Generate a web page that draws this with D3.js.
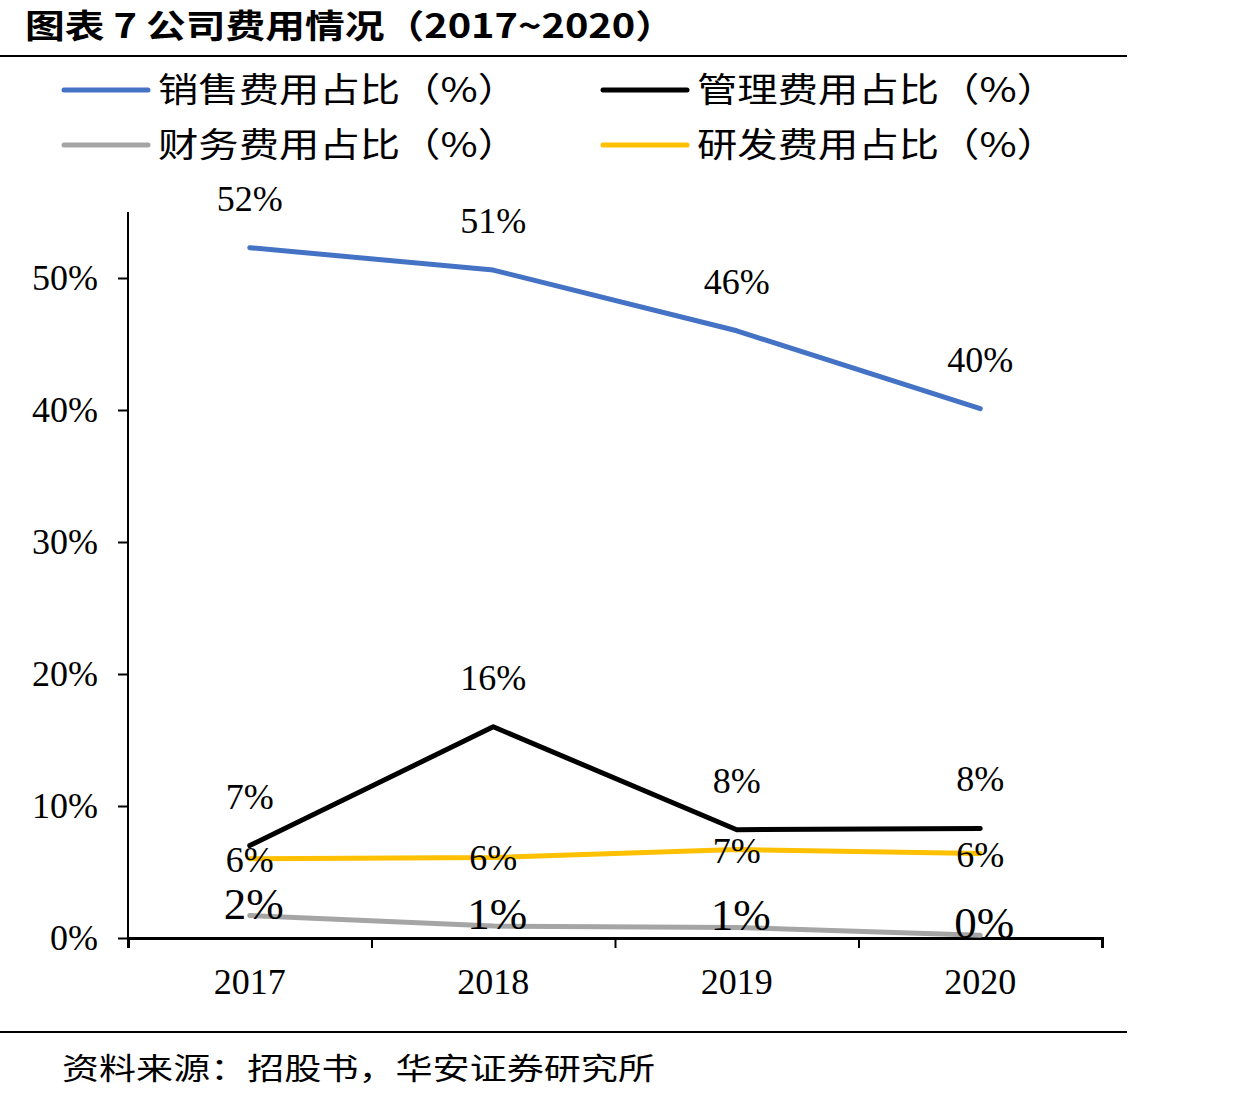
<!DOCTYPE html>
<html>
<head>
<meta charset="utf-8">
<script src="https://cdn.jsdelivr.net/npm/d3@7"></script>
<style>
  body { margin: 0; background: #fff; }
  svg { display: block; }
</style>
</head>
<body>
<div id="chart"></div>
<script>
// dữ liệu
const years = ["2017", "2018", "2019", "2020"];
const salesRatio = [52.3, 50.6, 46.0, 40.1];
const adminRatio = [7.0, 16.0, 8.2, 8.3];
const financeRatio = [1.7, 0.9, 0.8, 0.2];
const rdRatio = [6.0, 6.1, 6.7, 6.4];
const yTicks = [0, 10, 20, 30, 40, 50];
const seriesNames = ["销售费用占比（%）", "管理费用占比（%）", "财务费用占比（%）", "研发费用占比（%）"];

const W = 1237, H = 1100;
const margin = { top: 212, left: 128, right: 135, bottom: 162 };
const numFont = "'Liberation Serif', 'Times New Roman', serif";
const cjkFont = "'Noto Sans CJK SC', sans-serif";

const svg = d3.select("#chart").append("svg")
  .attr("width", W).attr("height", H);
svg.append("rect").attr("width", W).attr("height", H).attr("fill", "#fff");

// tiêu đề
svg.append("text")
  .attr("x", 25).attr("y", 38)
  .attr("font-family", cjkFont).attr("font-weight", "bold")
  .attr("font-size", 33)
  .attr("textLength", 650).attr("lengthAdjust", "spacingAndGlyphs")
  .text("图表 7 公司费用情况（2017~2020）");
svg.append("line").attr("x1", 0).attr("x2", 1127).attr("y1", 56).attr("y2", 56)
  .attr("stroke", "#000").attr("stroke-width", 2);
svg.append("line").attr("x1", 0).attr("x2", 1127).attr("y1", 1032).attr("y2", 1032)
  .attr("stroke", "#000").attr("stroke-width", 2);
svg.append("text")
  .attr("x", 62).attr("y", 1079)
  .attr("font-family", cjkFont).attr("font-size", 30)
  .attr("textLength", 593).attr("lengthAdjust", "spacingAndGlyphs")
  .text("资料来源：招股书，华安证券研究所");

// thang đo
const x = d3.scaleBand().domain(years).range([margin.left, W - margin.right]).padding(0);
const y = d3.scaleLinear().domain([0, 55]).range([H - margin.bottom, margin.top]);
const cx = d => x(d) + x.bandwidth() / 2;

const series = [
  { name: seriesNames[0], values: salesRatio, color: "#4472C4", pos: "above", size: 36 },
  { name: seriesNames[1], values: adminRatio, color: "#000000", pos: "above", size: 36 },
  { name: seriesNames[2], values: financeRatio, color: "#A5A5A5", pos: "center", size: 45 },
  { name: seriesNames[3], values: rdRatio, color: "#FFC000", pos: "center", size: 36 }
];

// chú giải
const legendPos = [[64, 90], [603, 90], [64, 145], [603, 145]];
series.forEach((s, i) => {
  const [lx, ly] = legendPos[i];
  svg.append("line").attr("x1", lx).attr("x2", lx + 84).attr("y1", ly).attr("y2", ly)
    .attr("stroke", s.color).attr("stroke-width", 5).attr("stroke-linecap", "round");
  svg.append("text").attr("x", lx + 94).attr("y", ly + 12)
    .attr("font-family", cjkFont).attr("font-size", 34)
    .attr("textLength", 360).attr("lengthAdjust", "spacingAndGlyphs")
    .text(s.name);
});

// trục
const yAxis = svg.append("g")
  .attr("transform", `translate(${margin.left},0)`)
  .call(d3.axisLeft(y).tickValues(yTicks).tickSize(10).tickPadding(20).tickFormat(d => d + "%"));
yAxis.select(".domain").attr("d", `M0,${y(0)}V${margin.top}`).attr("stroke-width", 2);
yAxis.selectAll(".tick line").attr("stroke-width", 2);
yAxis.selectAll("text").attr("font-family", numFont).attr("font-size", 36).attr("fill", "#000");

const edges = d3.scaleLinear().domain([0, years.length]).range([margin.left, W - margin.right]);
const xAxis = svg.append("g")
  .attr("transform", `translate(0,${y(0)})`)
  .call(d3.axisBottom(edges).ticks(years.length).tickSize(10).tickFormat(""));
xAxis.select(".domain").attr("stroke-width", 3);
xAxis.selectAll(".tick line").attr("stroke-width", 2);

svg.append("g").selectAll("text")
  .data(years).enter().append("text")
  .attr("x", cx).attr("y", y(0) + 56)
  .attr("text-anchor", "middle")
  .attr("font-family", numFont).attr("font-size", 36)
  .text(d => d);

// đường
const line = d3.line().x((d, i) => cx(years[i])).y(d => y(d));
series.forEach(s => {
  svg.append("path").datum(s.values)
    .attr("fill", "none").attr("stroke", s.color).attr("stroke-width", 5)
    .attr("stroke-linecap", "round").attr("stroke-linejoin", "round")
    .attr("d", line);
});

// nhãn
series.forEach(s => {
  svg.append("g").selectAll("text")
    .data(s.values).enter().append("text")
    .attr("x", (d, i) => cx(years[i]) + (s.size > 40 ? 4 : 0))
    .attr("y", d => s.pos === "above" ? y(d) - 37 : y(d) + (s.size > 40 ? 3 : 13))
    .attr("text-anchor", "middle")
    .attr("font-family", numFont).attr("font-size", s.size)
    .text(d => Math.round(d) + "%");
});
</script>
</body>
</html>
